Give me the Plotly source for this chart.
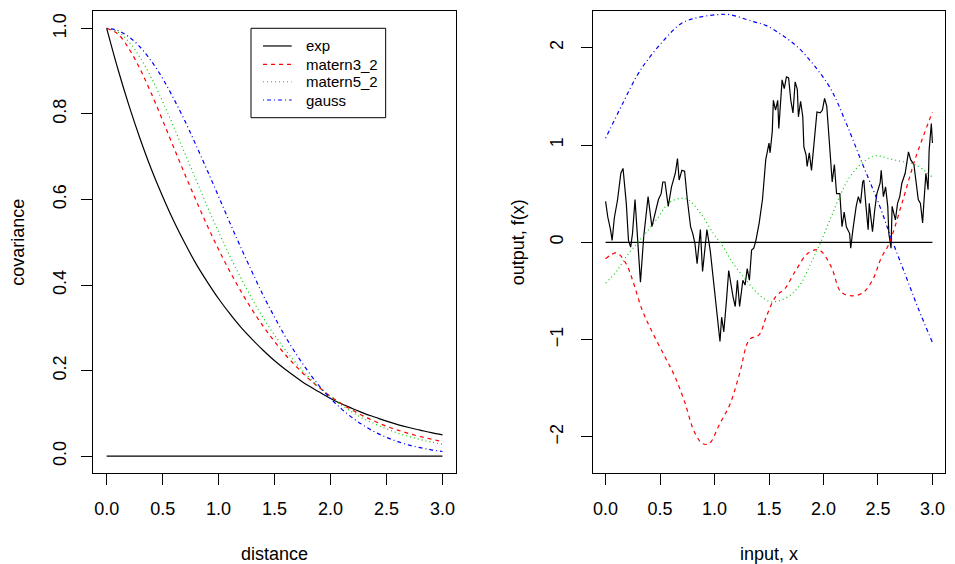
import plotly.graph_objects as go
from plotly.subplots import make_subplots

# left panel: covariance functions
distance = [0.0, 0.1, 0.2, 0.3, 0.4, 0.5, 0.6, 0.7, 0.8, 0.9, 1.0,
            1.1, 1.2, 1.3, 1.4, 1.5, 1.6, 1.7, 1.8, 1.9, 2.0,
            2.1, 2.2, 2.3, 2.4, 2.5, 2.6, 2.7, 2.8, 2.9, 3.0]
cov_exp = [1.0, 0.905, 0.819, 0.741, 0.670, 0.607, 0.549, 0.497, 0.449, 0.407, 0.368,
           0.333, 0.301, 0.273, 0.247, 0.223, 0.202, 0.183, 0.165, 0.150, 0.135,
           0.122, 0.111, 0.100, 0.091, 0.082, 0.074, 0.067, 0.061, 0.055, 0.050]
cov_m32 = [1.0, 0.987, 0.952, 0.904, 0.847, 0.785, 0.721, 0.658, 0.597, 0.538, 0.483,
           0.432, 0.385, 0.342, 0.303, 0.268, 0.236, 0.208, 0.182, 0.160, 0.140,
           0.122, 0.107, 0.093, 0.081, 0.070, 0.061, 0.053, 0.046, 0.040, 0.034]
cov_m52 = [1.0, 0.992, 0.968, 0.931, 0.884, 0.829, 0.769, 0.707, 0.645, 0.583, 0.524,
           0.468, 0.416, 0.367, 0.323, 0.283, 0.247, 0.215, 0.186, 0.161, 0.139,
           0.119, 0.102, 0.087, 0.075, 0.064, 0.054, 0.046, 0.039, 0.033, 0.028]
cov_gauss = [1.0, 0.995, 0.980, 0.956, 0.923, 0.883, 0.835, 0.783, 0.726, 0.667, 0.607,
             0.546, 0.487, 0.430, 0.375, 0.325, 0.278, 0.236, 0.198, 0.164, 0.135,
             0.110, 0.089, 0.071, 0.056, 0.044, 0.034, 0.026, 0.020, 0.015, 0.011]
base_x = [0.0, 3.0]
base_y = [0.0, 0.0]

# right panel: sample paths
exp_x = [0.0, 0.02, 0.045, 0.06, 0.08, 0.11, 0.14, 0.16, 0.19, 0.21, 0.23, 0.247, 0.27,
         0.32, 0.35, 0.38, 0.39, 0.425, 0.455, 0.485, 0.51, 0.525, 0.545, 0.575, 0.605,
         0.62, 0.64, 0.66, 0.675, 0.70, 0.725, 0.75, 0.78, 0.80, 0.82, 0.84, 0.87, 0.89,
         0.93, 0.96, 1.00, 1.02, 1.05, 1.065, 1.085, 1.11, 1.13, 1.17, 1.19, 1.21, 1.23,
         1.26, 1.28, 1.30, 1.32, 1.34, 1.36, 1.38, 1.41, 1.44, 1.47, 1.50, 1.51, 1.53,
         1.54, 1.56, 1.58, 1.59, 1.62, 1.64, 1.66, 1.68, 1.70, 1.72, 1.74, 1.76, 1.77,
         1.79, 1.81, 1.82, 1.84, 1.85, 1.87, 1.89, 1.91, 1.93, 1.94, 1.97, 1.99, 2.01,
         2.03, 2.05, 2.08, 2.10, 2.12, 2.15, 2.17, 2.19, 2.21, 2.24, 2.25, 2.27, 2.30,
         2.32, 2.34, 2.36, 2.37, 2.39, 2.41, 2.42, 2.45, 2.47, 2.49, 2.52, 2.53, 2.55,
         2.57, 2.59, 2.60, 2.62, 2.63, 2.66, 2.68, 2.70, 2.72, 2.75, 2.77, 2.78, 2.80,
         2.82, 2.83, 2.85, 2.87, 2.89, 2.91, 2.92, 2.94, 2.96, 2.97, 2.99, 3.00]
exp_y = [0.42, 0.26, 0.13, 0.02, 0.25, 0.44, 0.71, 0.76, 0.40, 0.02, -0.05, 0.09, 0.44,
         -0.41, 0.06, 0.37, 0.47, 0.16, 0.30, 0.44, 0.50, 0.62, 0.62, 0.37, 0.57,
         0.62, 0.71, 0.86, 0.64, 0.74, 0.73, 0.44, 0.16, 0.09, -0.01, -0.22, 0.13, -0.30,
         0.13, -0.08, -0.49, -0.70, -1.02, -0.77, -0.92, -0.59, -0.29, -0.56, -0.66, -0.39, -0.66,
         -0.39, -0.44, -0.27, -0.39, -0.08, -0.06, 0.02, 0.20, 0.44, 0.85, 1.02, 0.92, 1.14,
         1.46, 1.36, 1.46, 1.17, 1.67, 1.58, 1.70, 1.69, 1.46, 1.33, 1.65, 1.57, 1.29,
         1.45, 1.29, 0.98, 0.90, 0.78, 0.92, 0.74, 0.98, 1.19, 1.34, 1.33, 1.36, 1.48,
         1.40, 1.09, 0.62, 0.80, 0.50, 0.50, 0.16, 0.31, 0.16, 0.09, -0.06, 0.13, 0.37,
         0.47, 0.40, 0.62, 0.64, 0.37, 0.13, 0.40, 0.11, 0.33, 0.50, 0.61, 0.74, 0.47,
         0.57, 0.37, 0.09, -0.06, 0.37, 0.23, 0.40, 0.47, 0.61, 0.71, 0.88, 0.93, 0.85,
         0.81, 0.80, 0.62, 0.44, 0.40, 0.20, 0.38, 0.71, 0.54, 0.95, 1.22, 1.02]

m32_x = [0.0, 0.10, 0.188, 0.248, 0.337, 0.427, 0.546, 0.636, 0.725, 0.815, 0.89, 0.95,
         1.05, 1.14, 1.23, 1.32, 1.41, 1.47, 1.56, 1.65, 1.74, 1.86, 1.96, 2.07, 2.16,
         2.26, 2.36, 2.45, 2.53, 2.60, 2.72, 2.84, 3.0]
m32_y = [-0.17, -0.11, -0.22, -0.39, -0.70, -0.92, -1.18, -1.38, -1.64, -1.95, -2.07, -2.07,
         -1.86, -1.67, -1.35, -1.0, -0.95, -0.78, -0.56, -0.47, -0.30, -0.11, -0.08, -0.25, -0.51,
         -0.55, -0.52, -0.39, -0.16, -0.02, 0.40, 0.85, 1.34]

m52_x = [0.0, 0.10, 0.188, 0.29, 0.38, 0.485, 0.575, 0.68, 0.755, 0.87, 0.99, 1.07,
         1.16, 1.29, 1.41, 1.51, 1.59, 1.70, 1.80, 1.89, 1.97, 2.07, 2.16, 2.24, 2.36,
         2.48, 2.60, 2.72, 2.84, 3.0]
m52_y = [-0.42, -0.30, -0.15, -0.01, 0.11, 0.26, 0.40, 0.45, 0.44, 0.30, 0.09, -0.03,
         -0.20, -0.39, -0.54, -0.61, -0.60, -0.54, -0.41, -0.20, -0.01, 0.26, 0.50, 0.67, 0.82,
         0.89, 0.86, 0.83, 0.80, 0.67]

gauss_x = [0.0, 0.158, 0.292, 0.396, 0.545, 0.695, 0.844, 1.02, 1.14, 1.35, 1.47, 1.62,
           1.77, 1.92, 2.07, 2.21, 2.36, 2.51, 2.62, 2.75, 2.87, 3.0]
gauss_y = [1.07, 1.43, 1.72, 1.89, 2.09, 2.25, 2.31, 2.34, 2.34, 2.27, 2.23, 2.13,
           2.0, 1.81, 1.57, 1.22, 0.80, 0.39, 0.05, -0.33, -0.68, -1.03]

names = ["exp", "matern3_2", "matern5_2", "gauss"]
colors = ["black", "#FF0000", "#00CD00", "#0000FF"]
dashes = ["solid", "4px,4px", "1px,3px", "1px,3px,4px,3px"]

font = dict(family="Liberation Sans, Arial, sans-serif", size=18, color="black")

fig = make_subplots(rows=1, cols=2)

left_curves = [cov_exp, cov_m32, cov_m52, cov_gauss]
for nm, col, dsh, yy in zip(names, colors, dashes, left_curves):
    fig.add_trace(go.Scatter(x=distance, y=yy, mode="lines", name=nm, showlegend=False,
                             line=dict(color=col, width=1.2, dash=dsh, shape="spline")),
                  row=1, col=1)
fig.add_trace(go.Scatter(x=base_x, y=base_y, mode="lines", showlegend=False,
                         line=dict(color="black", width=1.2)), row=1, col=1)

fig.add_trace(go.Scatter(x=base_x, y=base_y, mode="lines", showlegend=False,
                         line=dict(color="black", width=1.2)), row=1, col=2)
right_x = [exp_x, m32_x, m52_x, gauss_x]
right_y = [exp_y, m32_y, m52_y, gauss_y]
for i in range(4):
    fig.add_trace(go.Scatter(x=right_x[i], y=right_y[i], mode="lines", showlegend=False,
                             line=dict(color=colors[i], width=1.2, dash=dashes[i],
                                       shape="linear" if i == 0 else "spline")),
                  row=1, col=2)

axis_common = dict(showgrid=False, zeroline=False, showline=True, linecolor="black",
                   linewidth=1, mirror=True, ticks="outside", ticklen=11, tickwidth=1,
                   tickcolor="black", tickfont=font, automargin=False)

fig.update_xaxes(axis_common)
fig.update_yaxes(axis_common)

xticks = [0, 0.5, 1, 1.5, 2, 2.5, 3]
fig.update_xaxes(domain=[0.0908, 0.4770], range=[-0.12, 3.12], tickvals=xticks, tickformat=".1f",
                 ticklabelstandoff=8, title=dict(text="distance", font=font, standoff=33), row=1, col=1)
fig.update_xaxes(domain=[0.6225, 0.9984], range=[-0.12, 3.12], tickvals=xticks, tickformat=".1f",
                 ticklabelstandoff=8, title=dict(text="input, x", font=font, standoff=33), row=1, col=2)
fig.update_yaxes(domain=[0.1631, 0.9941], range=[-0.04, 1.04], tickvals=[0, 0.2, 0.4, 0.6, 0.8, 1.0],
                 tickformat=".1f", tickangle=-90, ticklabelstandoff=8,
                 title=dict(text="covariance", font=font, standoff=21), row=1, col=1)
fig.update_yaxes(domain=[0.1631, 0.9941], range=[-2.375, 2.375], tickvals=[-2, -1, 0, 1, 2],
                 tickangle=-90, ticklabelstandoff=10,
                 title=dict(text="output, f(x)", font=font, standoff=18), row=1, col=2)

# legend drawn like R's legend(): box, line samples, labels
fig.add_shape(type="rect", xref="paper", yref="paper", x0=0.2588, x1=0.4022, y0=0.8027, y1=0.9635,
              line=dict(color="black", width=1))
leg_y = [0.9317, 0.8987, 0.8674, 0.8345]
for nm, col, dsh, ly in zip(names, colors, dashes, leg_y):
    fig.add_shape(type="line", xref="paper", yref="paper", x0=0.2716, x1=0.3021, y0=ly, y1=ly,
                  line=dict(color=col, width=1.2, dash=dsh))
    fig.add_annotation(x=0.3155, y=ly, xref="paper", yref="paper", text=nm, showarrow=False,
                       xanchor="left", yanchor="middle",
                       font=dict(family=font["family"], size=15, color="black"))

fig.update_layout(
    template="none",
    width=939, height=556,
    margin=dict(l=0, r=0, t=0, b=0),
    paper_bgcolor="white", plot_bgcolor="white",
    font=font,
    showlegend=False,
)

fig.write_html("out.html")
